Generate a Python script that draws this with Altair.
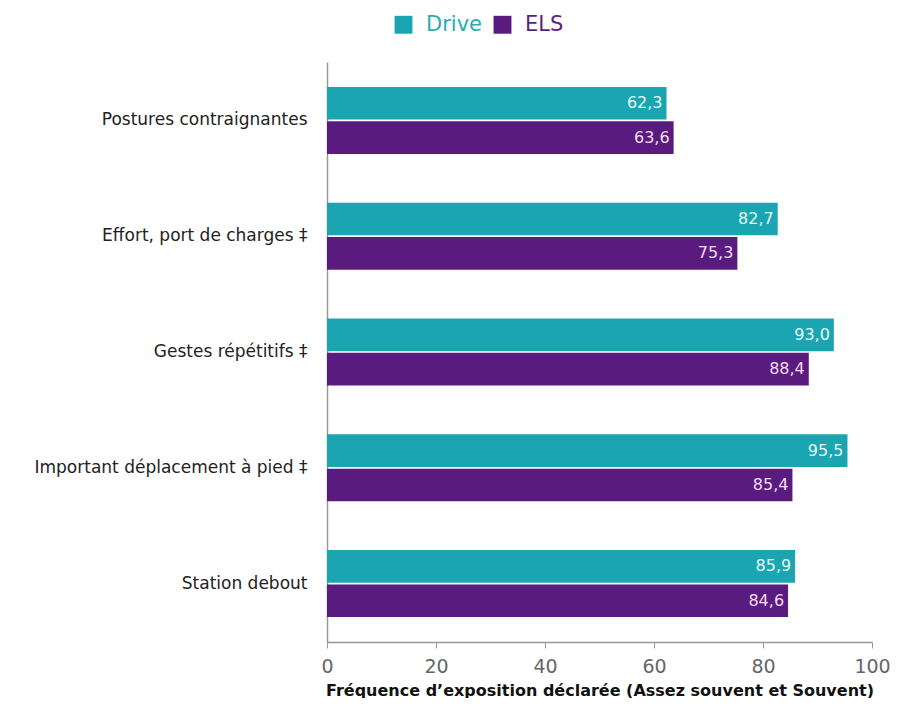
import altair as alt
import pandas as pd

categories = ["Postures contraignantes", "Effort, port de charges ‡", "Gestes répétitifs ‡",
              "Important déplacement à pied ‡", "Station debout"]
series = ["Drive", "ELS"]
drive = [62.3, 82.7, 93.0, 95.5, 85.9]
els = [63.6, 75.3, 88.4, 85.4, 84.6]
x_ticks = [0, 20, 40, 60, 80, 100]
colors = ["#1aa5b0", "#5a1b7f"]
label_colors = ["#e6fbff", "#f6dcf6"]

rows = []
for c, d, e in zip(categories, drive, els):
    rows.append({"cat": c, "serie": "Drive", "value": d})
    rows.append({"cat": c, "serie": "ELS", "value": e})
df = pd.DataFrame(rows)

FONT = "DejaVu Sans"

y_enc = alt.Y("cat:N", sort=categories,
              scale=alt.Scale(paddingInner=0.42, paddingOuter=0.215),
              axis=alt.Axis(title=None, ticks=False, labelFontSize=17, labelColor="#222",
                            labelFont=FONT, labelPadding=20, labelLimit=400,
                            domainColor="#999", domainWidth=1.5,
                            minExtent=319, maxExtent=319))
yoff = alt.YOffset("serie:N", sort=series, scale=alt.Scale(paddingInner=0.05))

bars = alt.Chart(df).mark_bar().encode(
    x=alt.X("value:Q", scale=alt.Scale(domain=[0, 100]),
            axis=alt.Axis(values=x_ticks, grid=False, title="Fréquence d’exposition déclarée (Assez souvent et Souvent)",
                          titleFont=FONT, titleFontSize=16, titleFontWeight="bold", titleColor="#111",
                          titlePadding=6,
                          labelFont=FONT, labelFontSize=19, labelColor="#666", labelPadding=9,
                          domainColor="#999", domainWidth=1.5, tickColor="#999", tickSize=6,
                          labelFlush=False)),
    y=y_enc,
    yOffset=yoff,
    color=alt.Color("serie:N", sort=series,
                    scale=alt.Scale(domain=series, range=colors),
                    legend=alt.Legend(title=None, orient="none", direction="horizontal",
                                      legendX=66, legendY=-48,
                                      symbolType="square", symbolSize=320, symbolStrokeWidth=0,
                                      labelFont=FONT, labelFontSize=21, columnPadding=10,
                                      labelOffset=12,
                                      labelColor=alt.ExprRef(expr="datum.value == 'Drive' ? '#2aaab2' : '#5c1f7e'"))),
)

text = alt.Chart(df).transform_calculate(
    lbl="replace(format(datum.value, '.1f'), '.', ',')"
).mark_text(align="right", baseline="middle", dx=-4, font=FONT, fontSize=16).encode(
    x="value:Q",
    y=alt.Y("cat:N", sort=categories),
    yOffset=yoff,
    text="lbl:N",
    color=alt.Color("serie:N", sort=series, scale=alt.Scale(domain=series, range=label_colors), legend=None),
)

chart = alt.layer(bars, text).resolve_scale(color="independent").properties(
    width=545, height=580, padding={"left": 0, "top": 6, "right": 0, "bottom": 0}
).configure(background="white").configure_view(strokeWidth=0)

chart.save("out.html", embed_options={"renderer": "svg", "actions": False})
